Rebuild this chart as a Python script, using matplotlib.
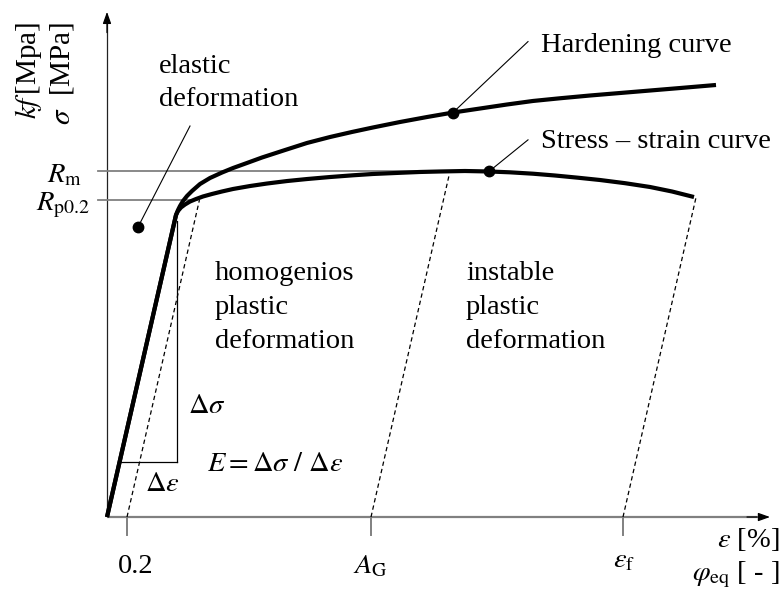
import matplotlib
matplotlib.use("Agg")
import matplotlib.pyplot as plt

plt.rcParams["font.family"] = ["Liberation Serif", "DejaVu Serif"]
plt.rcParams["mathtext.fontset"] = "stix"

# ---- curve data: strain in %, stress in MPa ----
ss_strain = [0, 0.69, 0.71, 0.74, 0.78, 0.83, 0.89, 0.96, 1.05, 1.15, 1.26,
             1.43, 1.60, 1.80, 2.00, 2.23, 2.46, 2.66, 2.93, 3.13, 3.33,
             3.58, 3.82, 4.03, 4.26, 4.48, 4.71, 4.93, 5.18, 5.43, 5.65, 5.87]
ss_stress = [0, 436.4, 442.2, 447.3, 451.6, 455.9, 459.5, 463.2, 466.8, 470.4, 474.0,
             478.3, 481.9, 485.5, 488.4, 491.3, 493.8, 495.7, 497.4, 498.6, 499.3,
             500.0, 499.3, 498.1, 496.1, 493.5, 490.3, 487.0, 482.4, 476.9, 470.4, 462.4]

hc_strain = [0, 0.69, 0.71, 0.73, 0.76, 0.80, 0.85, 0.93, 1.03, 1.15, 1.26,
             1.40, 1.55, 1.78, 2.00, 2.23, 2.45, 2.66, 2.93, 3.20, 3.46,
             3.73, 4.00, 4.26, 4.53, 4.83, 5.13, 5.43, 5.73, 6.09]
hc_stress = [0, 436.4, 443.6, 449.4, 456.6, 463.9, 471.1, 481.2, 489.9, 497.8, 504.3,
             511.6, 519.5, 530.3, 540.5, 549.1, 556.4, 562.9, 570.8, 578.0, 584.5,
             590.3, 596.1, 601.2, 605.1, 609.1, 612.7, 616.3, 619.9, 624.3]

R_m = 500
R_p02 = 458
tick_strain = [0.2, 2.64, 5.16]
tick_labels = ["0.2", r"$A_{\mathrm{G}}$", r"$\varepsilon_{\mathrm{f}}$"]
unload_top = [458, 496, 462]          # stress where each unloading line meets the curve
hc_dot = (3.46, 584.5)
ss_dot = (3.82, 499.3)
el_dot = (0.31, 419)
delta_sigma = 80                      # lower corner of the slope triangle

E = ss_stress[1] / ss_strain[1]       # slope of the elastic part

W, H = 783, 600
fig = plt.figure(figsize=(W / 100, H / 100), dpi=100)
ax = fig.add_axes([0, 0, 1, 1])
ax.set_xlim(-1.07, 6.76)
ax.set_ylim(-119.9, 747.1)
ax.axis("off")

FS = 20.5


def fpos(px, py):
    return px / W, 1 - py / H


def ftext(px, py, s, **kw):
    kw.setdefault("fontsize", FS)
    kw.setdefault("va", "baseline")
    fig.text(*fpos(px, py), s, **kw)


# axes with arrow heads
ax.plot([0, 0], [0, 718], color="#222222", lw=0.9, solid_capstyle="butt")
ax.annotate("", xy=(0, 730), xytext=(0, 700),
            arrowprops=dict(arrowstyle="-|>,head_length=0.7,head_width=0.25",
                            color="black", lw=0.9, shrinkA=0, shrinkB=0))
ax.plot([0, 6.5], [0, 0], color="#808080", lw=1.6, solid_capstyle="butt")
ax.annotate("", xy=(6.63, 0), xytext=(6.4, 0),
            arrowprops=dict(arrowstyle="-|>,head_length=0.7,head_width=0.25",
                            color="black", lw=0.9, shrinkA=0, shrinkB=0))

# ticks on the strain axis
for t in tick_strain:
    ax.plot([t, t], [0, -26], color="#808080", lw=1.4)

# Rm and Rp0.2 reference lines
ax.plot([-0.09, ss_dot[0]], [R_m, R_m], color="#808080", lw=1.3)
ax.plot([-0.09, 0.9], [R_p02, R_p02], color="#808080", lw=1.3)

# unloading lines parallel to the elastic slope
for t, top in zip(tick_strain, unload_top):
    ax.plot([t, t + top / E], [0, top], color="black", lw=0.9,
            linestyle=(0, (3.5, 2.5)))

# slope triangle
x_v = ss_strain[1] + 0.01
ax.plot([x_v, x_v], [delta_sigma, ss_stress[1] - 8], color="black", lw=0.9)
ax.plot([delta_sigma / E, x_v], [delta_sigma, delta_sigma], color="black", lw=0.9)

# curves
ax.plot(hc_strain, hc_stress, color="black", lw=3.0, solid_joinstyle="round",
        solid_capstyle="butt")
ax.plot(ss_strain, ss_stress, color="black", lw=3.0, solid_joinstyle="round",
        solid_capstyle="butt")

# marker dots
for d in (hc_dot, ss_dot, el_dot):
    ax.plot(*d, "o", color="black", ms=7.5)

# leader lines
ax.plot([hc_dot[0], 4.21], [hc_dot[1], 687], color="black", lw=0.8)
ax.plot([ss_dot[0], 4.21], [ss_dot[1], 545], color="black", lw=0.8)
ax.plot([el_dot[0], 0.83], [el_dot[1], 565], color="black", lw=0.8)

# labels
ftext(541, 52, "Hardening curve")
ftext(541, 148, "Stress \u2013 strain curve")
ftext(159, 73, "elastic")
ftext(159, 106, "deformation")
for i, s in enumerate(["homogenios", "plastic", "deformation"]):
    ftext(215, 280 + 34 * i, s)
for i, s in enumerate(["instable", "plastic", "deformation"]):
    ftext(466, 280 + 34 * i, s)
ftext(188, 413, r"$\Delta\sigma$")
ftext(207, 471, r"$E = \Delta\sigma\ /\ \Delta\varepsilon$")
ftext(145, 491, r"$\Delta\varepsilon$")

ftext(82, 182, r"$R_{\mathrm{m}}$", ha="right")
ftext(90, 210, r"$R_{\mathrm{p0.2}}$", ha="right")

tick_px = [136, 370, 624]
tick_base = [573, 573, 567]
for px, py, s in zip(tick_px, tick_base, tick_labels):
    ftext(px, py, s, ha="center")

ftext(779, 547, r"$\varepsilon$ [%]", ha="right")
ftext(779, 580, r"$\varphi_{\mathrm{eq}}$ [ - ]", ha="right")

fig.text(*fpos(28, 22), r"$kf\,$[Mpa]", rotation=90, ha="center", va="top",
         fontsize=21)
fig.text(*fpos(62, 22), r"$\sigma$  [MPa]", rotation=90, ha="center", va="top",
         fontsize=21)

fig.savefig("out.png", dpi=100, facecolor="white")
